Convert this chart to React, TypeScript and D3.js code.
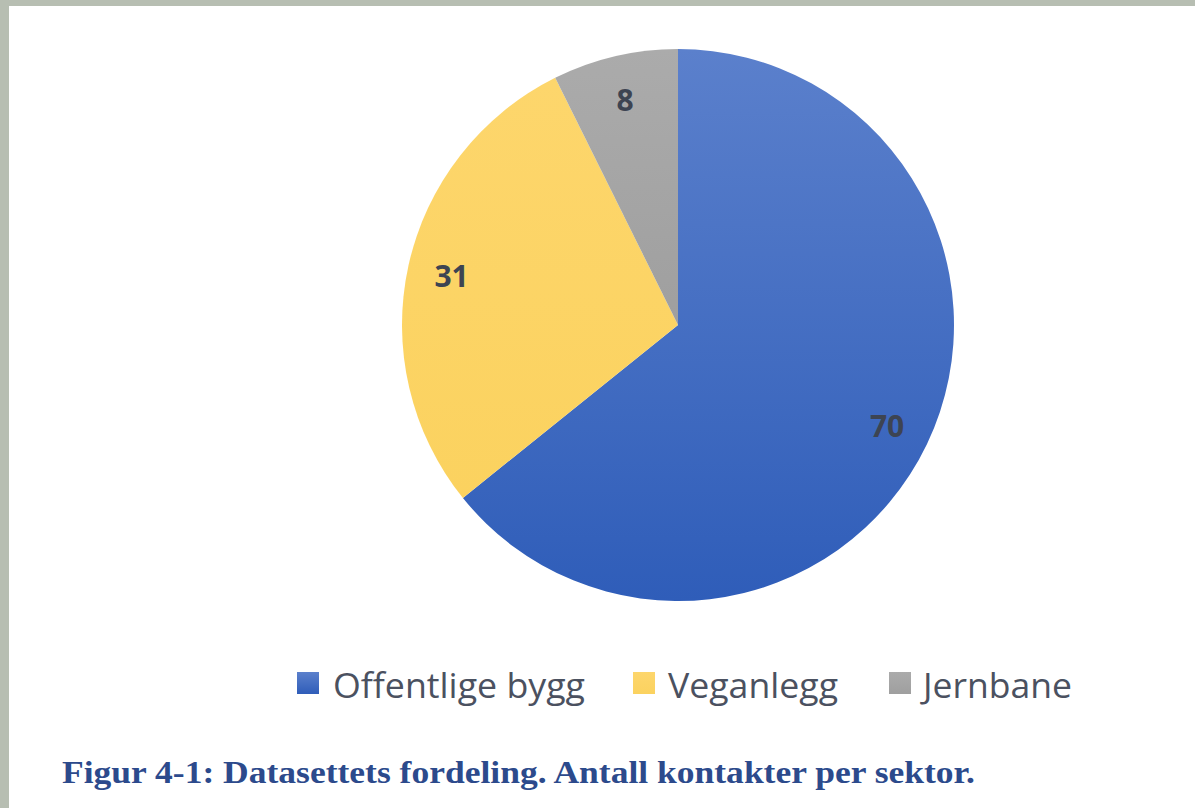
import { useRef, useEffect } from "react";
import * as d3 from "d3";

const sectors = ["Offentlige bygg", "Veganlegg", "Jernbane"];
const counts = [70, 31, 8];
const sectorColors = [
  ["#5b80cc", "#2f5db9"],
  ["#fdd66c", "#fbd25f"],
  ["#ababab", "#9f9f9f"],
];
const caption = "Figur 4-1: Datasettets fordeling. Antall kontakter per sektor.";

const width = 1195;
const height = 808;

export default function App() {
  const ref = useRef<SVGSVGElement>(null);

  useEffect(() => {
    const svg = d3.select(ref.current);
    svg.selectAll("*").remove();

    // frame
    svg.append("rect").attr("width", width).attr("height", height).attr("fill", "#b7beb2");
    svg.append("rect").attr("x", 9).attr("y", 6).attr("width", width - 9).attr("height", height - 6).attr("fill", "#ffffff");

    const defs = svg.append("defs");
    sectorColors.forEach((c, i) => {
      const g = defs.append("linearGradient")
        .attr("id", `grad${i}`)
        .attr("x1", 0).attr("y1", 0).attr("x2", 0).attr("y2", 1);
      g.append("stop").attr("offset", "0%").attr("stop-color", c[0]);
      g.append("stop").attr("offset", "100%").attr("stop-color", c[1]);
    });
    const pieGrad = defs.append("linearGradient")
      .attr("id", "pieBlue")
      .attr("gradientUnits", "userSpaceOnUse")
      .attr("x1", 0).attr("y1", -276).attr("x2", 0).attr("y2", 276);
    pieGrad.append("stop").attr("offset", "0%").attr("stop-color", sectorColors[0][0]);
    pieGrad.append("stop").attr("offset", "100%").attr("stop-color", sectorColors[0][1]);

    const cx = 678;
    const cy = 325;
    const radius = 276;

    const pie = d3.pie<number>().sort(null).value((d) => d);
    const arcs = pie(counts);
    const arc = d3.arc<d3.PieArcDatum<number>>().innerRadius(0).outerRadius(radius);

    const g = svg.append("g").attr("transform", `translate(${cx},${cy})`);
    g.selectAll("path")
      .data(arcs)
      .join("path")
      .attr("d", arc)
      .attr("fill", (d, i) => (i === 0 ? "url(#pieBlue)" : `url(#grad${i})`));

    const labelArc = d3.arc<d3.PieArcDatum<number>>().innerRadius(radius * 0.84).outerRadius(radius * 0.84);
    g.selectAll("text.val")
      .data(arcs)
      .join("text")
      .attr("class", "val")
      .attr("x", (d) => labelArc.centroid(d)[0])
      .attr("y", (d) => labelArc.centroid(d)[1])
      .attr("text-anchor", "middle")
      .attr("dominant-baseline", "central")
      .attr("font-family", "'Open Sans', sans-serif")
      .attr("font-weight", 700)
      .attr("font-size", 30)
      .attr("fill", "#3d4452")
      .text((d) => d.data);

    // legend
    const legendX = [297, 633, 889];
    const textX = [333, 668, 923];
    const legendW = [252, 170, 149];
    const legend = svg.append("g").attr("transform", "translate(0,683)");
    sectors.forEach((s, i) => {
      legend.append("rect")
        .attr("x", legendX[i]).attr("y", -11)
        .attr("width", 22).attr("height", 22)
        .attr("fill", `url(#grad${i})`);
      legend.append("text")
        .attr("x", textX[i])
        .attr("y", 1)
        .attr("dominant-baseline", "central")
        .attr("font-family", "'Open Sans', sans-serif")
        .attr("font-size", 35)
        .attr("fill", "#4b5160")
        .attr("textLength", legendW[i])
        .attr("lengthAdjust", "spacingAndGlyphs")
        .text(s);
    });

    svg.append("text")
      .attr("x", 62)
      .attr("y", 783)
      .attr("font-family", "'Liberation Serif', serif")
      .attr("font-weight", 700)
      .attr("font-size", 32)
      .attr("fill", "#2c4a8c")
      .attr("textLength", 913)
      .attr("lengthAdjust", "spacingAndGlyphs")
      .text(caption);
  }, []);

  return (
    <svg
      ref={ref}
      width={width}
      height={height}
      style={{ position: "absolute", left: 0, top: 0, display: "block" }}
    />
  );
}
